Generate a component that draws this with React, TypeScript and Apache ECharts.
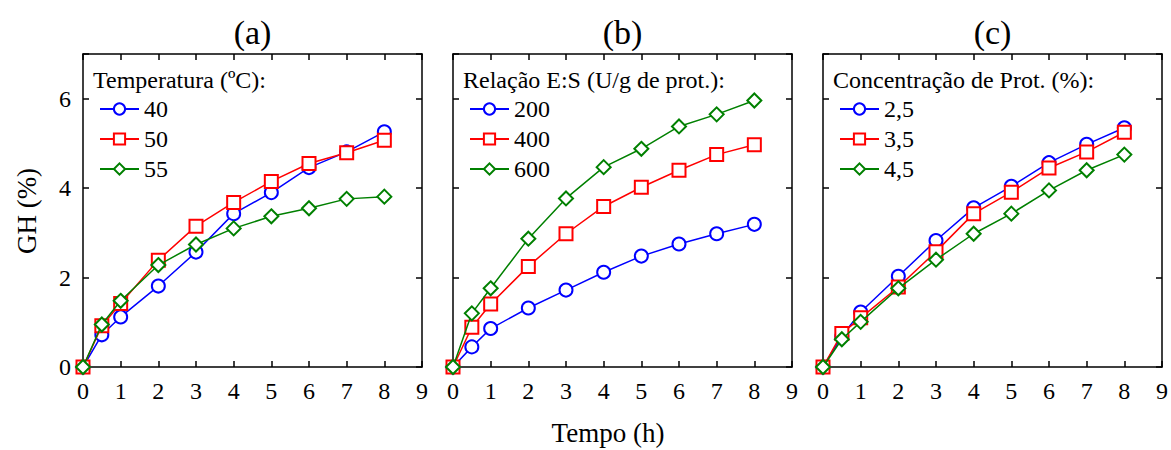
import React, { useEffect, useRef } from "react";
import * as echarts from "echarts";

const xTime = [0, 0.5, 1, 2, 3, 4, 5, 6, 7, 8];
const xTicks = [0, 1, 2, 3, 4, 5, 6, 7, 8, 9];
const yTicks = [0, 2, 4, 6];

const panelTitles = ["(a)", "(b)", "(c)"];
const legendTitles = ["Temperatura (ºC):", "Relação E:S (U/g de prot.):", "Concentração de Prot. (%):"];

const namesA = ["40", "50", "55"];
const a40 = [0, 0.72, 1.12, 1.81, 2.57, 3.43, 3.9, 4.46, 4.81, 5.26];
const a50 = [0, 0.92, 1.42, 2.39, 3.15, 3.68, 4.15, 4.55, 4.79, 5.07];
const a55 = [0, 0.95, 1.48, 2.28, 2.74, 3.1, 3.37, 3.55, 3.76, 3.81];

const namesB = ["200", "400", "600"];
const b200 = [0, 0.45, 0.86, 1.32, 1.72, 2.12, 2.48, 2.75, 2.98, 3.19];
const b400 = [0, 0.89, 1.41, 2.25, 2.98, 3.59, 4.02, 4.4, 4.75, 4.97];
const b600 = [0, 1.2, 1.76, 2.87, 3.77, 4.47, 4.88, 5.38, 5.65, 5.96];

const namesC = ["2,5", "3,5", "4,5"];
const c25 = [0, 0.69, 1.23, 2.03, 2.83, 3.56, 4.04, 4.57, 4.98, 5.35];
const c35 = [0, 0.75, 1.1, 1.79, 2.58, 3.43, 3.91, 4.45, 4.81, 5.25];
const c45 = [0, 0.62, 1.01, 1.76, 2.4, 2.98, 3.43, 3.95, 4.4, 4.75];

const colors = ["#0000ff", "#ff0000", "#008000"];
const symbols = ["emptyCircle", "emptyRect", "emptyDiamond"];
const FONT = "Liberation Serif";

export default function App() {
  const ref = useRef<HTMLDivElement>(null);
  useEffect(() => {
    if (!ref.current) return;
    const chart = echarts.init(ref.current, null, { renderer: "svg" });
    const panels = [
      { names: namesA, data: [a40, a50, a55] },
      { names: namesB, data: [b200, b400, b600] },
      { names: namesC, data: [c25, c35, c45] },
    ];
    const lefts = [83, 453, 823];
    const width = 339;
    const top = 54;
    const height = 313;
    const grids: any[] = [];
    const xAxes: any[] = [];
    const yAxes: any[] = [];
    const series: any[] = [];
    const legends: any[] = [];
    const graphics: any[] = [];
    const axisLine = { show: true, onZero: false, lineStyle: { color: "#000", width: 1.5 } };
    const axisTick = { show: true, inside: true, length: 6, lineStyle: { color: "#000", width: 1.5 } };
    panels.forEach((p, i) => {
      grids.push({ left: lefts[i], top, width, height, containLabel: false });
      xAxes.push({
        type: "value", gridIndex: i, min: xTicks[0], max: xTicks[xTicks.length - 1], interval: 1,
        position: "bottom", axisLine, axisTick, splitLine: { show: false },
        axisLabel: { show: true, fontFamily: FONT, fontSize: 24, color: "#000", margin: 12 },
      });
      xAxes.push({
        type: "value", gridIndex: i, min: xTicks[0], max: xTicks[xTicks.length - 1], interval: 1,
        position: "top", axisLine, axisTick, splitLine: { show: false }, axisLabel: { show: false },
      });
      yAxes.push({
        type: "value", gridIndex: i, min: 0, max: 7, interval: 2, position: "left",
        axisLine, axisTick, splitLine: { show: false },
        axisLabel: {
          show: i === 0, fontFamily: FONT, fontSize: 24, color: "#000", margin: 12,
          formatter: (v: number) => (yTicks.includes(v) ? String(v) : ""),
        },
      });
      yAxes.push({
        type: "value", gridIndex: i, min: 0, max: 7, interval: 2, position: "right",
        axisLine, axisTick, splitLine: { show: false }, axisLabel: { show: false },
      });
      const seriesNames: string[] = [];
      p.data.forEach((d, k) => {
        const name = p.names[k] + "\u200b".repeat(i);
        seriesNames.push(name);
        series.push({
          type: "line", name, xAxisIndex: i * 2, yAxisIndex: i * 2,
          data: xTime.map((x, j) => [x, d[j]]),
          symbol: symbols[k], symbolSize: k === 2 ? 14 : 13, clip: true,
          lineStyle: { color: colors[k], width: 1.5 },
          itemStyle: { color: colors[k], borderColor: colors[k], borderWidth: 1.5 },
          z: 3 + k,
        });
      });
      legends.push({
        data: seriesNames, orient: "vertical", left: lefts[i] + 16, top: 97,
        itemWidth: 39, itemHeight: 14, itemGap: 6, padding: 0,
        textStyle: { fontFamily: FONT, fontSize: 24, color: "#000" },
        selectedMode: false,
      });
      graphics.push({
        type: "text", x: lefts[i] + 10, y: 80,
        style: { text: legendTitles[i], fontFamily: FONT, fontSize: 24, fill: "#000", verticalAlign: "middle" },
      });
      graphics.push({
        type: "text", x: lefts[i] + width / 2, y: 32,
        style: { text: panelTitles[i], fontFamily: FONT, fontSize: 34, fill: "#000", align: "center", verticalAlign: "middle" },
      });
    });
    graphics.push({
      type: "text", x: 608, y: 433,
      style: { text: "Tempo (h)", fontFamily: FONT, fontSize: 27, fill: "#000", align: "center", verticalAlign: "middle" },
    });
    graphics.push({
      type: "text", x: 27, y: 211, rotation: Math.PI / 2,
      style: { text: "GH (%)", fontFamily: FONT, fontSize: 27, fill: "#000", align: "center", verticalAlign: "middle" },
    });
    chart.setOption({
      animation: false,
      backgroundColor: "#fff",
      textStyle: { fontFamily: FONT },
      grid: grids,
      xAxis: xAxes,
      yAxis: yAxes,
      series,
      legend: legends,
      graphic: graphics,
    });
    return () => chart.dispose();
  }, []);
  return <div ref={ref} style={{ width: 1171, height: 450, position: "absolute", left: 0, top: 0 }} />;
}
